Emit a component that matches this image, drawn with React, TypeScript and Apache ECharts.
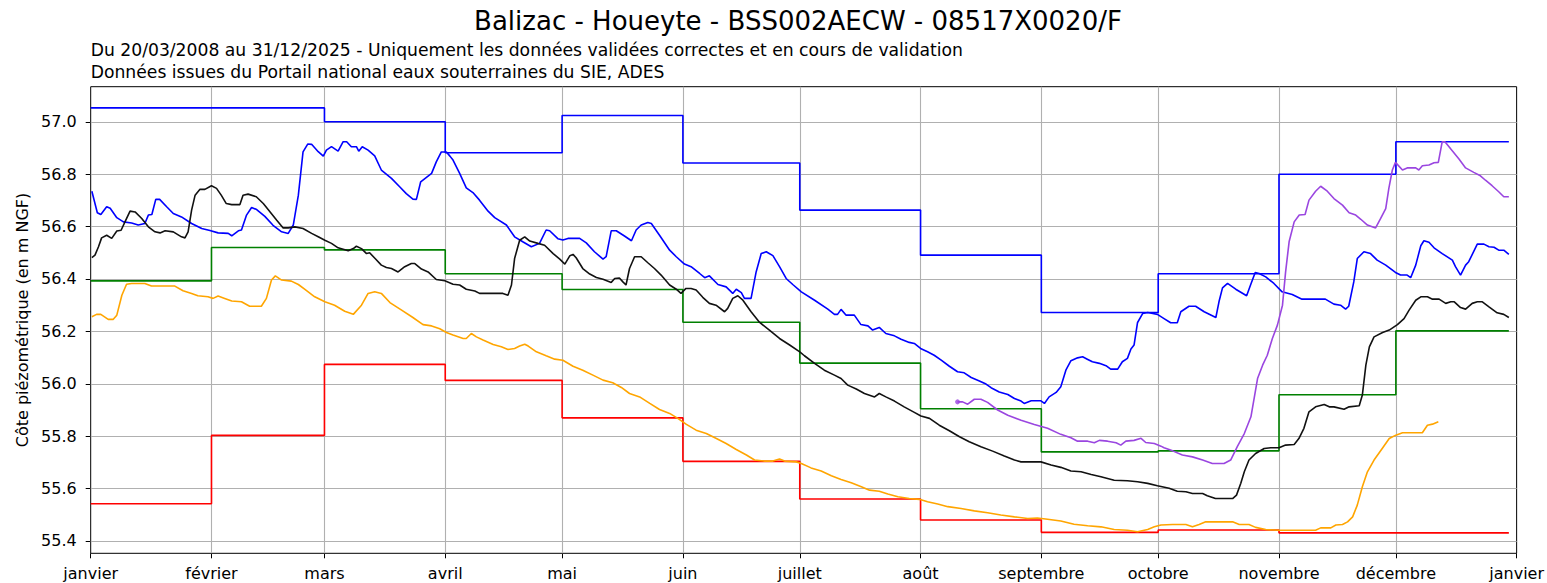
import React, { useEffect, useRef } from "react";
import * as echarts from "echarts";

// ---- Axis / tick data ----
const monthTickDays = [0, 31, 60, 91, 121, 152, 182, 213, 244, 274, 305, 335, 366];
const monthLabels = [
  "janvier", "février", "mars", "avril", "mai", "juin", "juillet",
  "août", "septembre", "octobre", "novembre", "décembre", "janvier",
];
const yTickValues = [55.4, 55.6, 55.8, 56.0, 56.2, 56.4, 56.6, 56.8, 57.0];

// ---- Monthly statistics (step lines) ----
const monthStarts = [0, 31, 60, 91, 121, 152, 182, 213, 244, 274, 305, 335];
const stepEndDay = 364;
const maxMensuel = [57.053, 57.053, 57.0, 56.882, 57.024, 56.843, 56.663, 56.491, 56.272, 56.42, 56.8, 56.924];
const minMensuel = [55.542, 55.803, 56.074, 56.013, 55.87, 55.704, 55.56, 55.48, 55.433, 55.442, 55.431, 55.431];
const moyMensuel = [56.393, 56.52, 56.511, 56.42, 56.36, 56.235, 56.079, 55.905, 55.74, 55.744, 55.958, 56.202];

// ---- Daily chronicles [day of year, level m NGF] ----
const anneeBleue = [
  [0.3,56.735],[1.7,56.653],[2.6,56.646],[4.1,56.676],[5.0,56.670],[6.7,56.634],[8.4,56.618],[10.5,56.614],[12.2,56.606],[13.9,56.612],[14.8,56.644],[15.7,56.646],[16.7,56.704],[17.7,56.704],[19.5,56.676],[21.2,56.650],[23.3,56.637],[25.9,56.612],[28.5,56.593],[30.6,56.585],[32.7,56.576],[35.3,56.574],[36.2,56.565],[37.9,56.584],[38.7,56.587],[40.0,56.644],[41.3,56.673],[42.6,56.665],[44.7,56.639],[46.8,56.605],[49.0,56.580],[50.7,56.574],[52.0,56.606],[53.3,56.720],[54.5,56.885],[55.7,56.915],[56.7,56.914],[58.4,56.886],[59.7,56.869],[60.5,56.892],[61.8,56.905],[63.5,56.888],[64.8,56.924],[65.7,56.924],[66.9,56.905],[68.2,56.905],[68.8,56.888],[69.7,56.905],[71.2,56.892],[72.9,56.870],[74.6,56.816],[77.2,56.784],[79.3,56.752],[81.0,56.726],[82.7,56.705],[83.6,56.704],[84.7,56.771],[87.5,56.803],[88.7,56.847],[90.0,56.885],[91.3,56.885],[92.2,56.869],[93.0,56.854],[94.7,56.803],[96.4,56.748],[98.1,56.730],[99.8,56.701],[102.0,56.659],[103.7,56.634],[106.7,56.606],[108.8,56.561],[110.9,56.542],[113.1,56.523],[115.2,56.536],[116.9,56.587],[117.8,56.584],[119.9,56.554],[121.2,56.549],[122.5,56.555],[123.8,56.555],[125.5,56.555],[127.2,56.538],[129.3,56.504],[131.5,56.476],[132.3,56.485],[133.6,56.584],[134.9,56.584],[137.0,56.564],[138.8,56.546],[140.0,56.587],[141.3,56.606],[143.0,56.616],[143.9,56.612],[146.0,56.567],[148.6,56.510],[150.3,56.485],[152.4,56.457],[154.1,56.447],[156.3,56.421],[157.6,56.405],[158.8,56.412],[161.0,56.379],[163.1,56.370],[164.8,56.345],[165.7,56.361],[167.0,56.348],[167.8,56.326],[169.5,56.326],[170.8,56.427],[172.1,56.497],[173.4,56.504],[175.1,56.489],[176.8,56.447],[178.5,56.402],[180.2,56.379],[182.4,56.351],[185.8,56.319],[189.2,56.285],[190.9,56.265],[191.7,56.265],[192.6,56.284],[193.9,56.262],[196.0,56.262],[197.7,56.226],[199.5,56.221],[200.7,56.205],[202.4,56.215],[204.1,56.192],[206.3,56.183],[208.0,56.170],[210.1,56.158],[211.4,56.154],[213.0,56.135],[214.8,56.122],[216.5,56.109],[218.3,56.090],[220.4,56.067],[222.5,56.046],[224.2,56.042],[226.0,56.024],[228.1,56.011],[229.8,55.999],[231.1,55.985],[233.2,55.969],[235.4,55.959],[237.1,55.944],[238.8,55.934],[239.6,55.925],[241.4,55.935],[243.9,55.935],[244.8,55.925],[246.0,55.950],[247.8,55.967],[249.0,55.989],[250.3,56.052],[251.6,56.088],[253.3,56.099],[254.6,56.103],[255.8,56.094],[257.1,56.084],[258.9,56.078],[260.6,56.069],[261.8,56.056],[263.6,56.056],[264.8,56.084],[266.1,56.097],[267.0,56.133],[267.8,56.148],[268.7,56.234],[270.0,56.268],[271.3,56.272],[272.6,56.268],[273.8,56.265],[275.5,56.249],[277.2,56.233],[278.9,56.233],[279.8,56.275],[281.9,56.296],[283.6,56.296],[285.8,56.275],[288.8,56.253],[289.6,56.313],[290.5,56.366],[291.8,56.383],[293.9,56.361],[296.7,56.336],[297.7,56.377],[298.9,56.425],[299.9,56.421],[301.6,56.408],[303.7,56.383],[305.8,56.351],[308.4,56.341],[310.9,56.323],[316.9,56.323],[319.1,56.304],[320.8,56.300],[322.1,56.285],[322.9,56.296],[324.2,56.389],[325.1,56.478],[326.8,56.504],[328.5,56.497],[330.2,56.472],[332.4,56.453],[334.9,56.425],[336.2,56.415],[337.9,56.415],[338.8,56.405],[340.1,56.453],[341.4,56.527],[342.2,56.546],[343.5,56.540],[344.8,56.519],[346.9,56.497],[349.5,56.472],[350.3,56.447],[351.6,56.415],[352.9,56.453],[353.7,56.466],[355.9,56.533],[357.6,56.533],[358.9,56.523],[360.2,56.521],[361.4,56.510],[362.7,56.510],[364.0,56.494],
];

const anneeNoire = [
  [0.3,56.482],[1.1,56.491],[2.0,56.523],[2.8,56.557],[4.1,56.567],[5.4,56.555],[6.7,56.583],[7.8,56.586],[8.8,56.618],[10.1,56.659],[11.4,56.656],[13.1,56.631],[14.8,56.599],[16.5,56.580],[17.8,56.576],[19.1,56.584],[21.2,56.580],[23.3,56.561],[24.2,56.557],[25.0,56.580],[25.9,56.663],[26.8,56.720],[28.0,56.742],[29.3,56.742],[31.0,56.756],[32.3,56.746],[33.5,56.720],[34.8,56.688],[36.2,56.684],[38.3,56.684],[39.1,56.720],[40.4,56.724],[42.5,56.714],[44.3,56.688],[45.9,56.659],[47.7,56.625],[49.4,56.595],[50.7,56.595],[52.4,56.599],[54.5,56.593],[56.7,56.574],[58.4,56.561],[60.1,56.548],[61.8,56.536],[63.5,56.519],[66.1,56.508],[67.4,56.516],[68.2,56.525],[69.5,56.516],[70.8,56.497],[71.6,56.500],[73.0,56.478],[74.6,56.453],[75.9,56.444],[77.2,56.440],[78.9,56.427],[80.6,56.447],[82.3,56.459],[83.2,56.459],[84.9,56.438],[86.6,56.427],[88.7,56.398],[90.9,56.393],[93.0,56.380],[94.7,56.377],[96.4,56.361],[98.6,56.354],[99.8,56.345],[105.8,56.345],[107.1,56.338],[108.0,56.377],[108.8,56.478],[110.1,56.548],[111.4,56.561],[112.7,56.545],[114.8,56.536],[116.5,56.529],[118.7,56.497],[120.4,56.476],[121.7,56.457],[123.0,56.489],[123.8,56.494],[124.6,56.481],[126.3,56.440],[128.1,56.419],[129.8,56.406],[131.5,56.399],[133.6,56.387],[134.5,56.402],[135.7,56.404],[136.6,56.389],[137.4,56.377],[138.3,56.440],[139.6,56.485],[141.3,56.485],[143.0,56.462],[144.7,56.440],[146.4,56.415],[148.6,56.377],[150.3,56.361],[151.5,56.345],[152.8,56.364],[154.1,56.364],[155.4,56.358],[157.1,56.330],[158.8,56.307],[160.5,56.300],[162.7,56.275],[163.5,56.288],[164.8,56.326],[166.1,56.336],[167.4,56.319],[169.5,56.275],[171.7,56.234],[174.2,56.205],[176.8,56.173],[179.4,56.148],[182.0,56.122],[183.2,56.107],[185.8,56.078],[188.3,56.052],[190.9,56.033],[192.6,56.020],[194.3,55.995],[196.5,55.980],[198.6,55.963],[201.2,55.950],[202.4,55.963],[204.1,55.950],[206.3,55.934],[208.8,55.912],[211.4,55.891],[213.1,55.877],[215.3,55.868],[217.8,55.842],[220.4,55.821],[223.0,55.798],[225.5,55.779],[228.5,55.760],[231.5,55.743],[234.5,55.724],[237.1,55.709],[238.8,55.702],[243.9,55.702],[246.5,55.690],[249.0,55.681],[251.6,55.667],[254.2,55.664],[256.8,55.654],[259.3,55.645],[262.7,55.632],[266.1,55.630],[268.7,55.626],[271.3,55.620],[273.8,55.611],[276.8,55.601],[278.9,55.590],[281.1,55.588],[282.8,55.581],[285.4,55.581],[286.6,55.573],[288.7,55.562],[293.1,55.562],[294.1,55.575],[295.2,55.620],[296.1,55.664],[297.3,55.709],[299.0,55.734],[301.2,55.753],[302.9,55.756],[305.0,55.756],[306.7,55.766],[308.9,55.768],[310.1,55.791],[311.4,55.830],[312.7,55.893],[314.4,55.912],[316.6,55.921],[317.9,55.912],[319.1,55.912],[321.7,55.903],[323.0,55.912],[325.6,55.916],[326.4,55.957],[327.3,56.071],[328.2,56.141],[329.4,56.179],[331.6,56.196],[333.3,56.205],[335.4,56.226],[337.1,56.249],[338.4,56.281],[340.1,56.319],[341.4,56.332],[343.1,56.332],[344.4,56.323],[346.1,56.323],[347.8,56.307],[349.1,56.313],[350.0,56.313],[351.6,56.291],[352.9,56.285],[354.6,56.307],[355.9,56.313],[357.2,56.313],[358.9,56.294],[361.0,56.271],[362.7,56.265],[364.0,56.253],
];

const anneeOrange = [
  [0.3,56.256],[1.5,56.265],[2.6,56.265],[4.5,56.246],[5.8,56.246],[6.7,56.262],[8.0,56.338],[9.2,56.380],[10.5,56.383],[13.9,56.383],[15.6,56.373],[21.6,56.373],[23.7,56.355],[25.9,56.345],[27.5,56.336],[30.1,56.332],[31.4,56.326],[32.7,56.335],[34.4,56.326],[36.2,56.316],[38.7,56.313],[40.8,56.296],[43.8,56.296],[45.1,56.326],[46.4,56.396],[47.4,56.412],[49.0,56.396],[51.5,56.392],[53.3,56.379],[54.9,56.361],[57.5,56.332],[60.1,56.313],[62.6,56.300],[65.2,56.277],[67.4,56.265],[69.5,56.300],[71.2,56.345],[72.9,56.351],[74.6,56.345],[76.8,56.310],[79.8,56.281],[82.7,56.253],[85.3,56.226],[87.5,56.221],[89.6,56.210],[91.3,56.196],[93.0,56.186],[95.6,56.173],[96.4,56.173],[97.7,56.192],[99.0,56.179],[100.7,56.167],[103.3,56.150],[105.4,56.141],[107.1,56.131],[108.8,56.135],[110.1,56.144],[111.4,56.151],[112.3,56.144],[114.4,56.122],[116.9,56.107],[119.1,56.094],[121.2,56.090],[123.8,56.067],[126.3,56.052],[128.9,56.033],[131.5,56.014],[134.0,56.004],[136.2,55.986],[138.3,55.963],[140.9,55.950],[143.5,55.925],[146.0,55.902],[148.6,55.887],[150.7,55.868],[152.9,55.845],[155.4,55.823],[158.0,55.810],[160.6,55.791],[163.1,55.772],[165.7,55.749],[168.3,55.728],[170.4,55.709],[173.0,55.705],[175.1,55.705],[176.8,55.713],[178.1,55.705],[181.1,55.702],[182.4,55.696],[184.9,55.679],[187.5,55.667],[190.1,55.649],[192.6,55.635],[195.2,55.622],[197.8,55.607],[199.9,55.594],[202.4,55.590],[204.6,55.579],[207.2,55.569],[210.1,55.562],[212.7,55.559],[214.8,55.550],[217.4,55.541],[220.0,55.531],[223.4,55.524],[226.8,55.515],[230.2,55.508],[233.6,55.499],[237.1,55.492],[240.5,55.486],[243.0,55.488],[245.6,55.483],[249.0,55.476],[252.4,55.464],[255.9,55.458],[259.3,55.454],[262.7,55.444],[266.1,55.441],[268.7,55.435],[271.3,55.444],[273.0,55.454],[274.7,55.461],[277.7,55.463],[281.1,55.463],[282.8,55.454],[284.5,55.463],[286.2,55.473],[293.1,55.473],[294.8,55.463],[297.3,55.463],[299.0,55.452],[301.6,55.444],[305.0,55.441],[314.4,55.441],[315.7,55.450],[318.3,55.450],[319.6,55.461],[321.3,55.463],[322.6,55.473],[323.9,55.492],[325.1,55.537],[326.4,55.607],[327.7,55.664],[329.4,55.709],[331.5,55.753],[333.3,55.791],[335.0,55.804],[336.7,55.813],[341.8,55.813],[343.1,55.842],[344.4,55.846],[345.9,55.855],
];

const anneeEnCours = [
  [222.5,55.931],[223.8,55.931],[225.1,55.922],[226.8,55.941],[228.5,55.941],[230.2,55.929],[232.8,55.900],[235.4,55.880],[238.8,55.861],[242.2,55.845],[245.6,55.830],[249.0,55.807],[251.6,55.794],[253.3,55.781],[255.9,55.781],[257.6,55.775],[258.9,55.784],[261.0,55.781],[263.2,55.775],[264.4,55.766],[265.7,55.781],[267.8,55.784],[269.6,55.792],[270.8,55.776],[273.0,55.772],[274.7,55.762],[275.5,55.756],[277.7,55.744],[280.2,55.728],[282.8,55.721],[285.4,55.709],[287.9,55.696],[290.9,55.696],[292.6,55.709],[294.3,55.760],[296.1,55.810],[297.8,55.874],[299.5,56.020],[300.8,56.071],[302.0,56.109],[303.3,56.173],[304.6,56.224],[305.9,56.300],[306.7,56.427],[307.6,56.542],[308.9,56.618],[310.2,56.644],[311.7,56.646],[312.7,56.701],[314.4,56.735],[315.7,56.754],[317.4,56.735],[319.1,56.707],[321.3,56.682],[323.0,56.653],[324.7,56.644],[326.0,56.628],[327.7,56.606],[329.8,56.595],[331.1,56.631],[332.4,56.669],[333.2,56.746],[334.1,56.816],[334.9,56.845],[336.7,56.816],[337.9,56.824],[340.1,56.824],[340.9,56.816],[341.8,56.832],[343.5,56.835],[344.8,56.844],[345.9,56.845],[346.9,56.924],[347.6,56.924],[349.0,56.898],[351.2,56.858],[352.9,56.824],[355.0,56.807],[356.7,56.794],[358.0,56.777],[359.7,56.756],[361.4,56.733],[362.7,56.714],[364.0,56.714],
];

const TITLE = "Balizac - Houeyte - BSS002AECW - 08517X0020/F";
const SUB1 = "Du 20/03/2008 au 31/12/2025 - Uniquement les données validées correctes et en cours de validation";
const SUB2 = "Données issues du Portail national eaux souterraines du SIE, ADES";
const Y_NAME = "Côte piézométrique (en m NGF)";

const FONT = "'DejaVu Sans', sans-serif";

function stepData(values: number[]) {
  const pts = monthStarts.map((d, i) => [d, values[i]]);
  pts.push([stepEndDay, values[values.length - 1]]);
  return pts;
}

export default function App() {
  const ref = useRef<HTMLDivElement>(null);

  useEffect(() => {
    if (!ref.current) return;
    const chart = echarts.init(ref.current, undefined, { renderer: "svg" });

    const lineBase = (name: string, color: string, data: any, extra: any = {}) => ({
      name,
      type: "line",
      data,
      showSymbol: false,
      symbol: "none",
      z: 3,
      lineStyle: { color, width: 1.6 },
      itemStyle: { color },
      ...extra,
    });

    const option: any = {
      animation: false,
      backgroundColor: "#ffffff",
      textStyle: { fontFamily: FONT },
      graphic: [
        {
          type: "text",
          x: 798,
          y: 21,
          style: { text: TITLE, fontSize: 26, fontFamily: FONT, fill: "#000", align: "center", verticalAlign: "middle" },
        },
        {
          type: "text",
          x: 90.7,
          y: 50,
          style: { text: SUB1, fontSize: 17.2, fontFamily: FONT, fill: "#000", align: "left", verticalAlign: "middle" },
        },
        {
          type: "text",
          x: 90.7,
          y: 72,
          style: { text: SUB2, fontSize: 17.2, fontFamily: FONT, fill: "#000", align: "left", verticalAlign: "middle" },
        },
      ],
      grid: {
        left: 90.7,
        right: 29.3,
        top: 86.7,
        bottom: 29.7,
        show: true,
        borderColor: "#000",
        borderWidth: 1,
        backgroundColor: "transparent",
      },
      xAxis: {
        type: "value",
        min: 0,
        max: 366,
        axisLine: { show: false },
        splitLine: { show: false },
        axisTick: {
          show: true,
          customValues: monthTickDays,
          length: 5,
          inside: false,
          lineStyle: { color: "#000", width: 1 },
        },
        axisLabel: {
          customValues: monthTickDays,
          showMinLabel: true,
          showMaxLabel: true,
          formatter: (v: number) => {
            const i = monthTickDays.indexOf(Math.round(v));
            return i >= 0 ? monthLabels[i] : "";
          },
          fontSize: 16,
          fontFamily: FONT,
          color: "#000",
          margin: 12,
        },
      },
      yAxis: {
        type: "value",
        min: 55.353,
        max: 57.134,
        name: Y_NAME,
        nameLocation: "middle",
        nameGap: 56,
        nameRotate: 90,
        nameTextStyle: { fontSize: 16, fontFamily: FONT, color: "#000" },
        axisLine: { show: false },
        splitLine: { show: false },
        axisTick: {
          show: true,
          customValues: yTickValues,
          length: 5,
          inside: false,
          lineStyle: { color: "#000", width: 1 },
        },
        axisLabel: {
          customValues: yTickValues,
          formatter: (v: number) => v.toFixed(1),
          fontSize: 16,
          fontFamily: FONT,
          color: "#000",
          margin: 14,
        },
      },
      series: [
        {
          name: "grille",
          type: "line",
          data: [],
          z: 1,
          silent: true,
          markLine: {
            silent: true,
            z: 1,
            symbol: ["none", "none"],
            label: { show: false },
            emphasis: { disabled: true },
            lineStyle: { color: "#b0b0b0", width: 1.1, type: "solid" },
            data: [
              ...monthTickDays.slice(1, -1).map((d) => ({ xAxis: d })),
              ...yTickValues.map((v) => ({ yAxis: v })),
            ],
          },
        },
        lineBase("Maximum mensuel", "#0000ff", stepData(maxMensuel), { step: "end" }),
        lineBase("Minimum mensuel", "#ff0000", stepData(minMensuel), { step: "end" }),
        lineBase("Moyenne mensuelle", "#008000", stepData(moyMensuel), { step: "end" }),
        lineBase("Année bleue", "#0000ff", anneeBleue),
        lineBase("Année noire", "#111111", anneeNoire),
        lineBase("Année orange", "#ffa500", anneeOrange),
        lineBase("Année en cours", "#9a46e0", anneeEnCours),
        {
          name: "Début année en cours",
          type: "scatter",
          data: [anneeEnCours[0]],
          symbol: "circle",
          symbolSize: 5,
          z: 4,
          itemStyle: { color: "#9a46e0" },
        },
      ],
    };

    chart.setOption(option);
    return () => chart.dispose();
  }, []);

  return (
    <div
      ref={ref}
      style={{ position: "fixed", left: 0, top: 0, width: 1547, height: 583, background: "#fff" }}
    />
  );
}
